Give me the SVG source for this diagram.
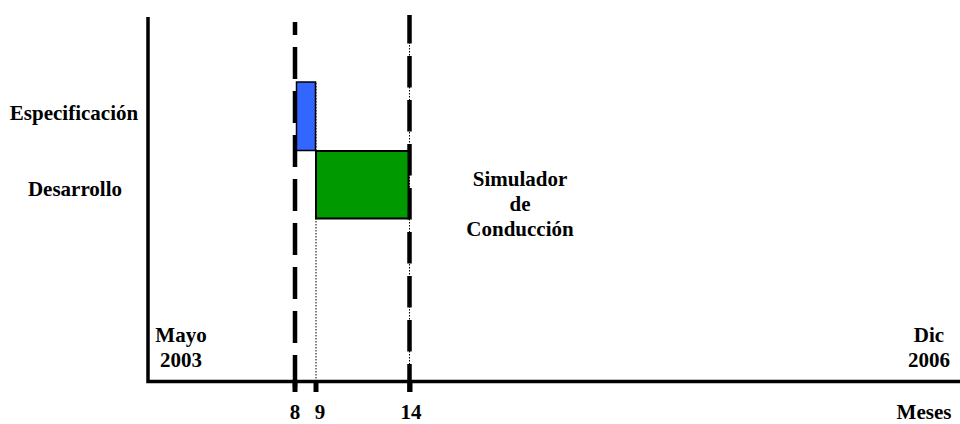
<svg xmlns="http://www.w3.org/2000/svg" width="960" height="424" viewBox="0 0 960 424">
<style>
text{font-family:"Liberation Serif","Times New Roman",serif;font-weight:bold;font-size:21px;fill:#000}
.c{text-anchor:middle}
.axis{stroke:#000;stroke-width:3.5;fill:none}
.dash{stroke:#000;stroke-width:4.5;fill:none}
.dot{stroke:#000;stroke-width:1;stroke-dasharray:1.5 1.5;fill:none}
.tick{stroke:#000;stroke-width:5}
</style>
<rect width="960" height="424" fill="#fff"/>
<g id="connectors">
<line class="dot" x1="316" y1="83" x2="316" y2="381"/>
<line class="dot" x1="409.5" y1="15" x2="409.5" y2="381"/>
<line class="dash" x1="295" y1="22" x2="295" y2="392" stroke-dasharray="32 12" stroke-dashoffset="19"/>
<line class="dash" x1="409.5" y1="15" x2="409.5" y2="392" stroke-dasharray="31.5 12.5" stroke-dashoffset="3"/>
<line class="tick" x1="295" y1="380" x2="295" y2="392"/>
<line class="tick" x1="316" y1="380" x2="316" y2="392"/>
<line class="tick" x1="410" y1="380" x2="410" y2="392"/>
<polyline class="axis" points="148,17 148,381.5 960,381.5"/>
</g>
<g id="especificacion-bar"><rect x="296.5" y="82" width="19" height="68.5" fill="#3366FF" stroke="#000" stroke-width="1.5"/></g>
<g id="desarrollo-bar"><rect x="316" y="151" width="92.5" height="67.5" fill="#009900" stroke="#000" stroke-width="2"/></g>
<g id="label-especificacion"><text class="c" x="74" y="120">Especificación</text></g>
<g id="label-desarrollo"><text class="c" x="75" y="196">Desarrollo</text></g>
<g id="label-simulador"><text class="c" x="520" y="186">Simulador</text><text class="c" x="520" y="211">de</text><text class="c" x="520" y="236">Conducción</text></g>
<g id="label-mayo"><text class="c" x="181" y="342">Mayo</text><text class="c" x="181" y="367">2003</text></g>
<g id="label-dic"><text class="c" x="929" y="342">Dic</text><text class="c" x="929" y="367">2006</text></g>
<g id="label-8"><text class="c" x="295" y="419">8</text></g>
<g id="label-9"><text class="c" x="320" y="419">9</text></g>
<g id="label-14"><text class="c" x="411" y="419">14</text></g>
<g id="label-meses"><text class="c" x="924" y="419">Meses</text></g>
</svg>
